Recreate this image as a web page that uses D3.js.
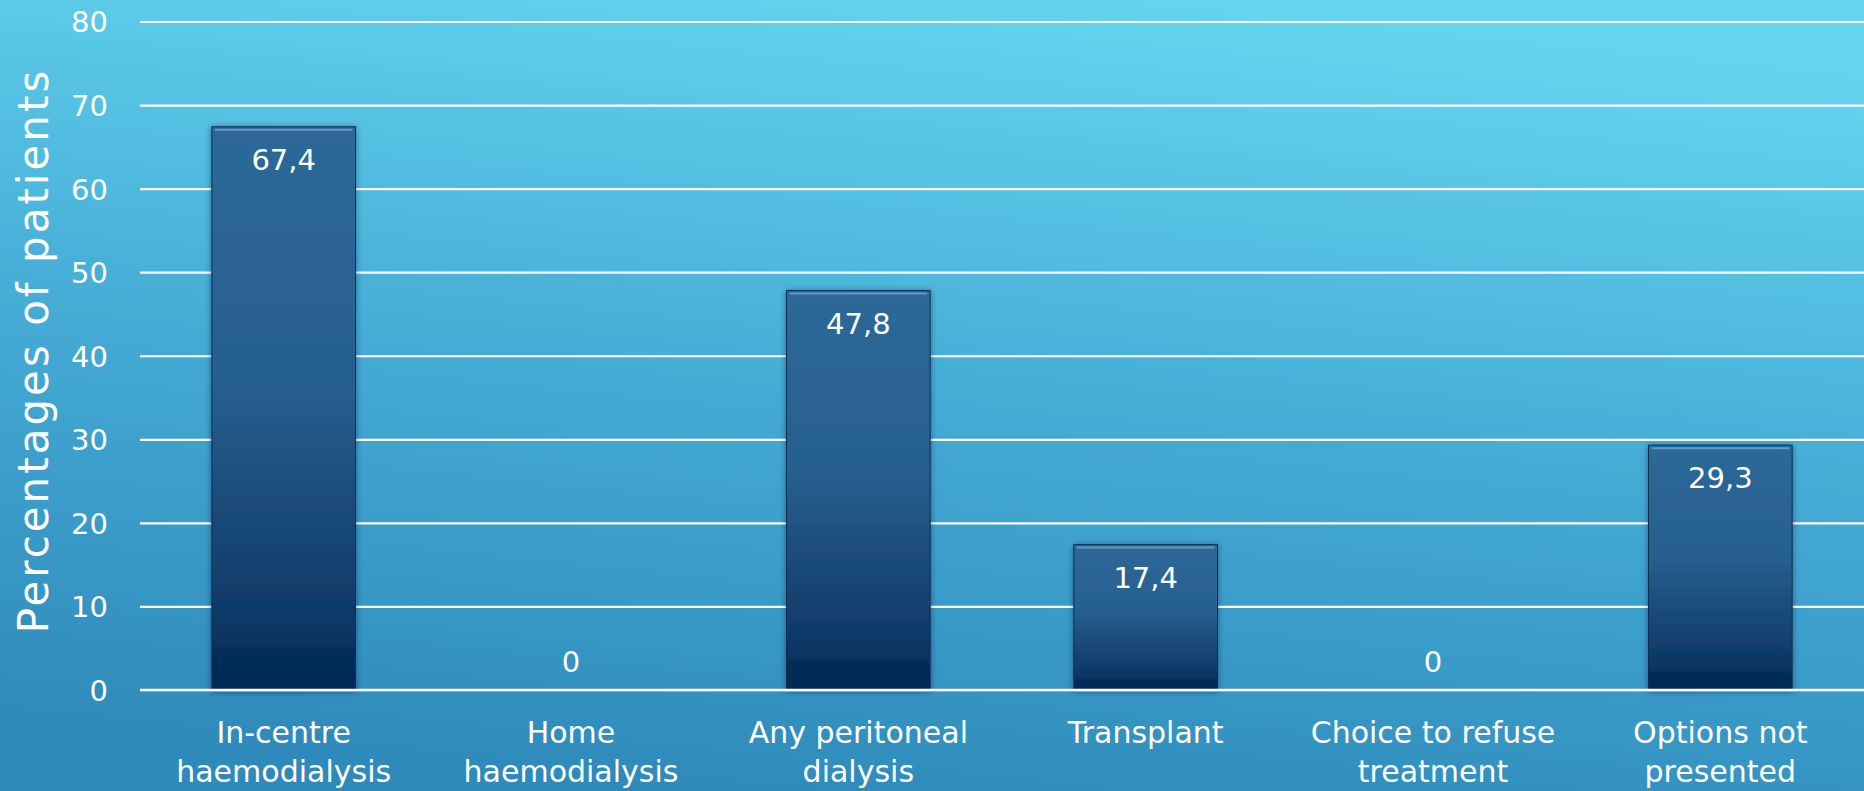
<!DOCTYPE html>
<html>
<head>
<meta charset="utf-8">
<script src="https://cdn.jsdelivr.net/npm/d3@7"></script>
<style>
  html, body { margin: 0; padding: 0; overflow: hidden; }
  svg { display: block; }
  text { font-family: "DejaVu Sans", "Lato", sans-serif; fill: #ffffff; }
</style>
</head>
<body>
<svg id="chart" width="1864" height="791"></svg>
<script>
// Treatment options discussed with patients (% of patients)
const categories = [
  ["In-centre", "haemodialysis"],
  ["Home", "haemodialysis"],
  ["Any peritoneal", "dialysis"],
  ["Transplant"],
  ["Choice to refuse", "treatment"],
  ["Options not", "presented"]
];
const values = [67.4, 0, 47.8, 17.4, 0, 29.3];
const valueLabels = ["67,4", "0", "47,8", "17,4", "0", "29,3"];
const yTicks = [0, 10, 20, 30, 40, 50, 60, 70, 80];
const yTitle = "Percentages of patients";

const W = 1864, H = 791;
const plot = { left: 140, right: 1864, top: 21.5, bottom: 690 };

const svg = d3.select("#chart");
const defs = svg.append("defs");

// Background: light cyan at top right fading to deeper blue at bottom left
const bg = defs.append("linearGradient").attr("id", "bgGrad")
  .attr("x1", 0.38).attr("y1", 1).attr("x2", 0.62).attr("y2", 0);
bg.append("stop").attr("offset", 0).attr("stop-color", "#2e8aba");
bg.append("stop").attr("offset", 0.5).attr("stop-color", "#45acd6");
bg.append("stop").attr("offset", 1).attr("stop-color", "#64d5ef");

// Bar fill: steel blue on top, navy at the base
const barGrad = defs.append("linearGradient").attr("id", "barGrad")
  .attr("x1", 0).attr("y1", 0).attr("x2", 0).attr("y2", 1);
barGrad.append("stop").attr("offset", 0).attr("stop-color", "#2d6898");
barGrad.append("stop").attr("offset", 0.45).attr("stop-color", "#27608f");
barGrad.append("stop").attr("offset", 0.91).attr("stop-color", "#0d3563");
barGrad.append("stop").attr("offset", 0.93).attr("stop-color", "#052d5a");
barGrad.append("stop").attr("offset", 1).attr("stop-color", "#032a57");

const shadow = defs.append("filter").attr("id", "barShadow")
  .attr("x", -0.1).attr("y", -0.1).attr("width", 1.2).attr("height", 1.2);
shadow.append("feDropShadow").attr("dx", 0).attr("dy", 1)
  .attr("stdDeviation", 3).attr("flood-color", "#001a33").attr("flood-opacity", 0.45);

svg.append("rect").attr("width", W).attr("height", H).attr("fill", "url(#bgGrad)");

const x = d3.scaleBand()
  .domain(d3.range(categories.length))
  .range([plot.left, plot.right])
  .paddingInner(0.5).paddingOuter(0.25);

const y = d3.scaleLinear().domain([0, 80]).range([plot.bottom, plot.top]);

// Gridlines and tick labels
const yAxis = d3.axisLeft(y).tickValues(yTicks).tickSize(-(plot.right - plot.left)).tickFormat(d3.format("d"));
const gy = svg.append("g").attr("transform", `translate(${plot.left},0)`).call(yAxis);
gy.select(".domain").remove();
gy.selectAll(".tick line")
  .attr("stroke", "#ffffff").attr("stroke-width", 2.2);
gy.selectAll(".tick").filter(d => d === 0).select("line").attr("stroke-width", 2.6);
gy.selectAll(".tick text")
  .attr("x", -32).attr("dy", "0.36em")
  .attr("text-anchor", "end")
  .style("font-size", "29px").style("fill", "#ffffff")
  .style("font-family", "'DejaVu Sans', Lato, sans-serif");

// Bars
const barData = values.map((v, i) => ({ v, i })).filter(d => d.v > 0);
const barG = svg.append("g");
barG.selectAll("rect.bar")
  .data(barData)
  .join("rect").attr("class", "bar")
  .attr("x", d => x(d.i))
  .attr("y", d => y(d.v))
  .attr("width", x.bandwidth())
  .attr("height", d => y(0) - y(d.v))
  .attr("fill", "url(#barGrad)")
  .attr("stroke", "#0e2f52").attr("stroke-width", 1)
  .attr("filter", "url(#barShadow)");

// Highlight bevel along the top edge of each bar
barG.selectAll("line.bevel")
  .data(barData)
  .join("line").attr("class", "bevel")
  .attr("x1", d => x(d.i) + 3).attr("x2", d => x(d.i) + x.bandwidth() - 3)
  .attr("y1", d => y(d.v) + 3).attr("y2", d => y(d.v) + 3)
  .attr("stroke", "#6aa3d4").attr("stroke-width", 2).attr("opacity", 0.85);

// Baseline redrawn over the bars
svg.append("line")
  .attr("x1", plot.left).attr("x2", plot.right)
  .attr("y1", y(0) + 1.5).attr("y2", y(0) + 1.5)
  .attr("stroke", "#7d8a96").attr("stroke-width", 1);
svg.append("line")
  .attr("x1", plot.left).attr("x2", plot.right)
  .attr("y1", y(0)).attr("y2", y(0))
  .attr("stroke", "#ffffff").attr("stroke-width", 2.4);

// Value labels
svg.append("g").selectAll("text")
  .data(values.map((v, i) => ({ v, i })))
  .join("text")
  .attr("x", d => x(d.i) + x.bandwidth() / 2)
  .attr("y", d => d.v > 0 ? y(d.v) + 43 : y(0) - 18)
  .attr("text-anchor", "middle")
  .style("font-size", "29px")
  .text(d => valueLabels[d.i]);

// Category labels
const cat = svg.append("g").selectAll("text")
  .data(categories.map((c, i) => ({ c, i })))
  .join("text")
  .attr("x", d => x(d.i) + x.bandwidth() / 2)
  .attr("y", 743)
  .attr("text-anchor", "middle")
  .style("font-size", "30px");
cat.selectAll("tspan")
  .data(d => d.c.map((t, k) => ({ t, k, cx: x(d.i) + x.bandwidth() / 2 })))
  .join("tspan")
  .attr("x", d => d.cx)
  .attr("dy", d => d.k === 0 ? 0 : 39)
  .text(d => d.t);

// Y axis title
svg.append("text")
  .attr("transform", `translate(48,${(71 + 630) / 2}) rotate(-90)`)
  .attr("text-anchor", "middle")
  .style("font-size", "42px")
  .style("letter-spacing", "3px")
  .text(yTitle);
</script>
</body>
</html>
